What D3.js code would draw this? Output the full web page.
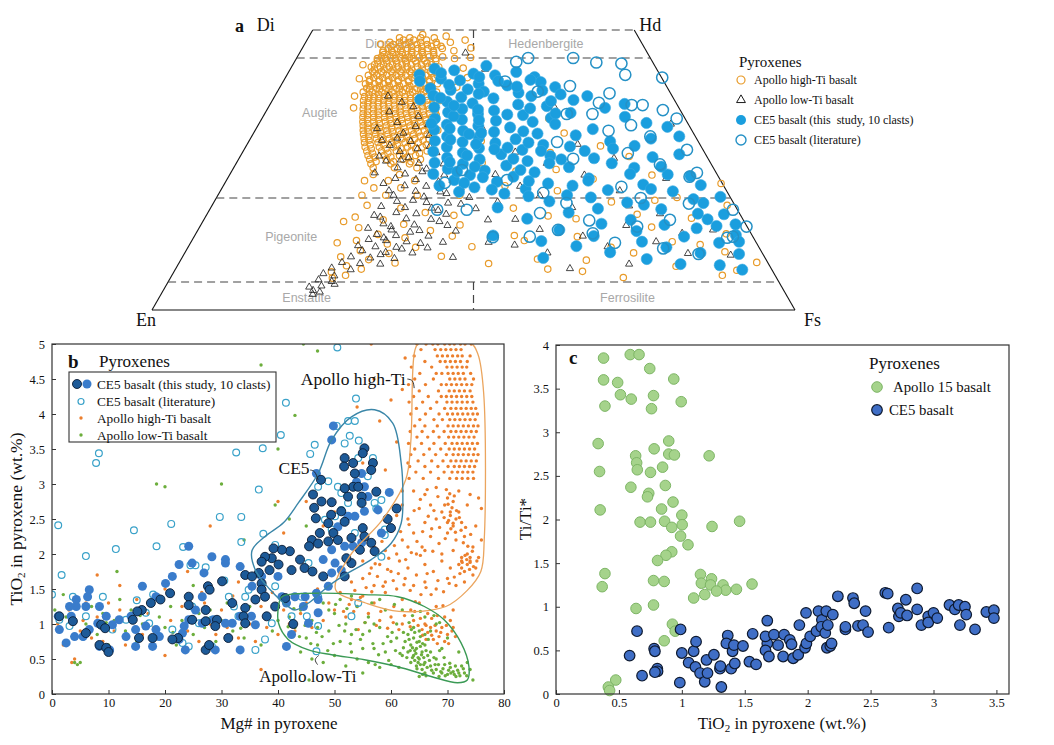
<!DOCTYPE html>
<html>
<head>
<meta charset="utf-8">
<script src="https://cdn.jsdelivr.net/npm/d3@7"></script>
<style>
  body { margin: 0; background: #fff; }
  svg text { font-family: "Liberation Serif", "Times New Roman", serif; fill: #111; }
  .gray { font-family: "Liberation Sans", Arial, sans-serif !important; fill: #a8a8a8 !important; }
</style>
</head>
<body>
<svg id="chart" width="1054" height="745"></svg>
<script>
// ---------- panel a : pyroxene quadrilateral, values [Wo, Fs] mol% ----------
var hiTiA = [[48.6,14.2],[48.6,15.8],[48.6,17.5],[48.6,19.6],[47.8,13.1],[47.8,14.6],[47.8,16.2],[47.8,17.9],[47.8,20.3],[47.8,22.5],
  [47.1,13.6],[47.1,15.0],[47.1,16.8],[47.1,18.4],[47.1,19.9],[47.1,21.4],[46.3,12.8],[46.3,14.1],[46.3,15.5],[46.3,17.2],[46.3,18.8],[46.3,20.6],[46.3,23.8],
  [45.6,13.3],[45.6,14.7],[45.6,16.1],[45.6,17.6],[45.6,19.3],[45.6,21.0],[44.9,12.6],[44.9,13.9],[44.9,15.4],[44.9,16.9],[44.9,18.2],[44.9,19.8],[44.9,21.7],[44.9,24.6],
  [44.1,13.1],[44.1,14.5],[44.1,16.0],[44.1,17.5],[44.1,19.1],[44.1,20.7],[43.4,12.4],[43.4,13.8],[43.4,15.2],[43.4,16.6],[43.4,18.0],[43.4,19.6],[43.4,21.3],[43.4,22.9],
  [42.6,13.0],[42.6,14.4],[42.6,15.9],[42.6,17.3],[42.6,18.8],[42.6,20.4],[42.6,22.0],[41.9,12.7],[41.9,14.0],[41.9,15.5],[41.9,17.0],[41.9,18.5],[41.9,20.0],[41.9,21.6],[41.9,23.4],
  [41.1,13.3],[41.1,14.8],[41.1,16.3],[41.1,17.8],[41.1,19.4],[41.1,21.0],[41.1,22.6],[40.4,13.0],[40.4,14.4],[40.4,15.8],[40.4,17.3],[40.4,18.9],[40.4,20.5],[40.4,22.1],[40.4,24.2],
  [39.6,13.6],[39.6,15.1],[39.6,16.6],[39.6,18.2],[39.6,19.8],[39.6,21.4],[39.6,23.0],[38.9,13.4],[38.9,14.8],[38.9,16.3],[38.9,17.9],[38.9,19.5],[38.9,21.1],[38.9,22.8],[38.9,24.8],
  [38.1,14.0],[38.1,15.5],[38.1,17.1],[38.1,18.7],[38.1,20.3],[38.1,22.0],[38.1,23.6],[37.4,14.2],[37.4,15.7],[37.4,17.3],[37.4,18.9],[37.4,20.6],[37.4,22.3],[37.4,24.0],[37.4,26.1],
  [36.6,14.6],[36.6,16.1],[36.6,17.7],[36.6,19.4],[36.6,21.1],[36.6,22.8],[36.6,24.5],[35.9,14.9],[35.9,16.5],[35.9,18.2],[35.9,19.9],[35.9,21.6],[35.9,23.3],[35.9,25.2],
  [35.1,15.3],[35.1,16.9],[35.1,18.6],[35.1,20.3],[35.1,22.0],[35.1,23.8],[35.1,25.6],[34.4,15.6],[34.4,17.3],[34.4,19.0],[34.4,20.8],[34.4,22.6],[34.4,24.4],[34.4,26.3],
  [33.6,16.0],[33.6,17.7],[33.6,19.5],[33.6,21.3],[33.6,23.1],[33.6,25.0],[33.6,27.0],[32.9,16.4],[32.9,18.2],[32.9,20.0],[32.9,21.8],[32.9,23.7],[32.9,25.6],
  [32.1,16.8],[32.1,18.6],[32.1,20.5],[32.1,22.4],[32.1,24.3],[32.1,26.3],[32.1,28.4],[31.4,17.2],[31.4,19.1],[31.4,21.0],[31.4,23.0],[31.4,25.0],[31.4,27.1],
  [30.6,17.7],[30.6,19.6],[30.6,21.6],[30.6,23.6],[30.6,25.6],[30.6,27.8],[29.9,18.1],[29.9,20.2],[29.9,22.3],[29.9,24.4],[29.9,26.5],
  [29.1,18.6],[29.1,20.8],[29.1,23.0],[29.1,25.2],[29.1,27.5],[28.4,19.2],[28.4,21.5],[28.4,23.8],[28.4,26.1],[28.4,28.6],
  [27.6,19.8],[27.6,22.3],[27.6,24.7],[27.6,27.2],[26.9,20.4],[26.9,23.0],[26.9,25.6],[26.9,28.3],[26.1,21.0],[26.1,24.1],[26.1,27.0],
  [25.4,21.7],[25.4,25.0],[25.4,28.5],[24.2,22.3],[24.2,26.4],[23.1,21.5],[23.1,25.2],[23.1,29.3],[21.8,23.6],[21.8,27.8],[20.5,22.4],[20.5,26.1],[20.5,31.0],
  [18.7,24.1],[18.2,29.6],[17.4,33.8],[16.6,23.3],[16.1,27.9],[15.3,31.5],[14.7,24.8],[14.2,36.2],[13.5,28.4],[12.9,32.9],[12.4,25.6],[11.8,30.7],
  [11.2,35.4],[10.6,27.1],[10.1,31.8],[9.5,24.6],[9.0,29.2],[8.4,33.6],[7.9,26.3],[7.3,28.9],[6.8,24.5],[6.2,27.0],[5.7,25.2],[16.9,38.5],[13.2,40.1],
  [15.8,21.9],[12.0,22.8],[49.2,17.5],[48.9,21.3],[48.2,24.6],[46.8,26.2],[45.1,27.0],[43.2,26.8],[41.5,28.3],[39.8,27.5],[37.9,29.2],[35.5,29.8],
  [47.5,11.8],[43.8,10.9],[41.3,11.6],[38.2,12.4],[36.1,13.3],
  [8.3,48.2],[9.1,55.4],[8.9,63.1],[10.2,69.8],[7.8,77.6],[11.3,44.1],[12.4,51.7],[13.1,59.6],[12.2,74.8],[13.6,82.5],[15.2,40.3],[16.3,57.8],
  [17.1,66.9],[16.4,75.7],[18.2,47.1],[19.3,61.8],[20.1,71.6],[21.3,52.4],[22.2,43.8],[23.4,56.9],[24.1,65.7],[26.3,38.2],[28.1,47.9],[30.2,36.1],
  [32.1,41.8],[6.2,85.6],[7.1,87.4],[10.4,83.9],[13.3,49.7],[11.2,65.8],[7.3,57.9],[9.6,40.2],[14.8,70.3],[18.7,80.1],[25.1,50.3],[27.4,60.5],
  [22.6,77.2],[5.8,70.4],[6.9,63.5],[11.7,79.4],[20.5,37.6],[24.8,44.2],[29.3,55.1],[31.6,48.3],[34.2,44.6],[16.8,53.2],[19.6,68.4],[8.5,89.8]];
// the packed augite cluster of the high-Ti basalts, one row per Wo level: [Wo, [Fs ...]]
var hiTiRowsA = [[48.2,[15.0,16.6,18.6]],[47.4,[13.8,15.8,17.5,19.1,20.6]],[46.7,[13.4,14.8,16.4,18.0,19.6,21.8]],
  [46.0,[12.9,14.4,15.9,17.4,19.0,20.8]],[45.2,[13.1,14.5,16.0,17.4,19.0,20.5,22.6]],[44.5,[12.8,14.2,15.7,17.2,18.7,20.2,21.9]],
  [43.8,[12.7,14.1,15.5,17.0,18.4,20.0,21.6]],[43.0,[13.1,14.6,16.0,17.4,18.9,20.5,22.2]],[42.3,[13.4,14.8,16.3,17.7,19.2,20.8,22.4]],
  [41.5,[13.7,15.1,16.6,18.1,19.7,21.3,23.0]],[40.8,[13.4,14.9,16.4,17.9,19.5,21.1,22.8]],[40.0,[13.9,15.4,16.9,18.5,20.1,21.7,23.4]],
  [39.3,[14.2,15.7,17.2,18.8,20.4,22.1,23.8]],[38.5,[14.5,16.0,17.6,19.2,20.9,22.6,24.3]],[37.8,[14.8,16.4,18.0,19.6,21.3,23.0,24.8]],
  [37.0,[15.1,16.7,18.3,20.0,21.7,23.5,25.3]],[36.3,[15.4,17.0,18.7,20.4,22.1,23.9,25.8]],[35.5,[15.8,17.4,19.1,20.8,22.6,24.4,26.3]],
  [34.8,[16.1,17.8,19.5,21.3,23.1,24.9,26.8]],[34.0,[16.5,18.2,20.0,21.8,23.6,25.5]],[33.3,[16.9,18.7,20.5,22.3,24.2,26.1]],
  [32.5,[17.3,19.1,21.0,22.9,24.8,26.8]],[31.8,[17.7,19.6,21.5,23.5,25.5,27.6]],[31.0,[18.2,20.1,22.1,24.1,26.2]],
  [30.3,[18.6,20.7,22.8,24.9,27.0]],[29.5,[19.2,21.3,23.4,25.6,27.9]],[28.8,[19.7,22.0,24.3,26.6]],[28.0,[20.3,22.7,25.1,27.6]],
  [27.3,[21.0,23.5,26.0]],[26.5,[21.6,24.3,27.0]]];
var loTiA = [[38.2,17.6],[37.1,20.3],[36.3,22.5],[35.4,19.2],[34.6,24.1],[33.5,21.4],[33.1,26.4],[32.4,18.8],[31.6,23.3],[31.2,27.5],
  [30.3,20.6],[30.1,25.2],[29.4,22.3],[29.2,28.6],[28.3,24.4],[28.1,30.2],[27.5,21.6],[27.2,26.3],[26.6,23.1],[26.2,28.4],[26.1,32.3],
  [25.4,25.5],[25.2,30.1],[24.5,22.4],[24.3,27.2],[24.1,33.4],[23.5,26.1],[23.3,29.4],[23.1,35.2],[22.6,24.7],[22.2,28.2],[22.1,31.6],
  [21.8,37.1],[21.3,26.2],[21.2,30.4],[21.1,34.3],[20.5,27.3],[20.2,32.2],[20.1,39.3],[19.4,28.4],[19.2,33.1],[19.1,36.5],[18.5,26.4],
  [18.3,30.2],[18.2,34.4],[18.1,41.3],[17.4,29.3],[17.2,32.5],[17.1,37.2],[16.6,27.2],[16.3,31.4],[16.2,35.3],[16.1,44.2],[15.4,28.3],
  [15.2,33.2],[15.1,38.4],[14.6,26.3],[14.3,30.1],[14.2,34.5],[14.1,40.2],[13.5,28.2],[13.3,31.3],[13.2,36.4],[12.6,27.4],[12.4,30.2],
  [12.2,33.5],[12.1,39.2],[11.5,26.3],[11.3,29.1],[11.2,32.4],[11.1,37.3],[10.6,27.4],[10.3,31.2],[10.2,35.4],[9.5,26.2],[9.3,29.3],
  [9.2,33.1],[8.5,25.3],[8.3,28.2],[8.2,31.4],[7.5,24.2],[7.2,27.3],[6.5,23.4],[6.1,25.3],[5.4,23.2],[5.1,25.4],[4.3,24.2],[4.1,22.4],
  [3.5,23.3],[4.6,26.1],[3.2,24.5],[2.8,23.6],[17.8,35.6],[15.8,36.8],[13.9,33.2],[12.9,29.6],[11.9,35.8],[10.9,33.4],[9.9,30.6],
  [16.9,26.1],[19.6,30.8],[14.9,29.7],[18.9,38.6],[20.8,35.4],[22.9,33.1],[24.7,29.7],[26.8,25.3],[28.8,26.9],[30.7,22.8],[32.8,24.6],
  [24.2,41.3],[22.1,46.2],[20.4,50.1],[18.3,56.2],[16.2,48.4],[14.4,53.1],[13.2,60.4],[12.1,46.3],[11.3,65.2],[10.2,56.4],[9.4,42.1],
  [12.2,72.3],[14.3,80.1],[17.2,70.4],[21.3,62.1],[24.1,55.2],[28.2,42.4],[30.3,38.1],[27.1,58.3],[32.4,35.2],[33.2,64.1],[10.1,78.3],
  [8.2,70.1],[15.1,66.2],[19.3,44.1],[26.2,48.3],[45.9,25.8],[43,30.3],[9.8,85.1],[13.7,75.6],[18.6,64.9],[23.5,68.2],[29.6,51.4],
  [36.2,44.5],[7.4,61.3],[11.6,50.6]];
var ce5A = [[43.1,22.4],[42.8,25.6],[42.2,28.9],[41.9,32.4],[43.6,30.2],[41.3,24.3],[41.0,27.4],[40.4,30.6],[40.1,35.2],[39.6,23.5],
  [39.3,26.8],[39.0,32.1],[38.8,37.6],[38.3,24.6],[38.0,29.1],[37.8,34.2],[37.2,27.3],[36.9,31.4],[36.7,38.6],[36.2,25.8],[35.9,30.3],
  [35.6,35.4],[35.3,28.4],[35.0,33.2],[34.8,40.3],[34.2,26.9],[34.0,31.2],[33.8,36.6],[33.6,42.4],[33.1,29.3],[32.9,34.3],[32.6,39.4],
  [32.2,27.8],[32.0,32.4],[31.8,37.3],[31.5,44.2],[31.0,30.4],[30.8,35.4],[30.5,41.3],[30.2,28.9],[30.0,33.3],[29.8,38.5],[29.5,46.1],
  [29.1,31.3],[28.9,36.4],[28.6,43.3],[28.3,29.6],[28.1,34.3],[27.8,40.4],[27.5,48.2],[27.2,32.3],[26.9,37.5],[26.6,45.1],[26.3,30.8],
  [26.1,35.3],[25.8,42.2],[25.5,52.1],[25.2,33.4],[24.9,39.3],[24.6,47.2],[24.3,31.6],[24.1,37.4],[23.8,44.3],[23.5,56.2],[23.2,35.4],
  [22.9,42.2],[22.6,50.3],[22.2,33.6],[21.9,39.2],[21.6,47.3],[21.4,60.2],[21.1,37.2],[20.8,44.4],[20.5,54.3],
  [42.5,35.4],[41.6,38.7],[40.7,40.1],[39.8,42.8],[38.5,44.3],[37.5,46.8],[36.4,43.2],[35.2,47.5],[42.0,20.6],[40.9,21.2],[37.6,22.9],
  [34.6,29.6],[31.4,33.6],[29.0,40.8],[27.0,42.7],[25.0,44.8],[23.0,47.1],[36.1,52.4],[34.5,56.3],[33.4,60.2],[38.2,48.6],[36.8,55.1],
  [32.7,63.8],[31.0,66.5],
  [42.3,23.8],[41.6,30.1],[40.2,26.1],[39.4,29.4],[38.6,31.5],[37.9,25.9],[36.5,28.7],[35.8,32.8],[34.9,37.8],[33.9,33.9],[33.3,26.8],
  [32.4,30.1],[31.6,35.4],[30.4,31.2],[29.6,35.6],[28.7,38.9],[27.6,35.2],[26.4,33.1],[25.6,37.4],[24.7,35.1],[23.7,39.6],[22.7,37.2],
  [21.5,42.1],[40.9,33.4],[39.9,36.8],[38.2,39.9],[36.0,40.8],[34.3,44.9],[31.9,41.8],[29.9,43.6],[28.4,46.3],[26.2,48.7],
  [31.2,50.3],[30.1,56.2],[29.3,60.4],[28.4,53.1],[27.3,64.2],[26.2,58.4],[25.4,62.3],[24.2,68.1],[23.1,56.3],[22.4,65.2],[21.2,70.4],
  [20.3,48.4],[20.1,58.2],[19.8,74.3],[19.4,52.1],[19.2,64.3],[18.3,44.6],[18.1,60.3],[18.0,70.2],[17.4,56.1],[17.2,76.3],[16.3,50.2],
  [16.1,66.4],[15.4,62.2],[15.2,72.1],[15.0,80.3],[14.3,56.2],[14.1,68.3],[13.3,46.4],[13.2,62.1],[13.1,76.2],[12.3,54.4],[12.2,70.1],
  [12.0,82.2],[11.4,60.3],[11.2,74.4],[10.3,66.1],[10.2,80.2],[10.0,86.3],[9.3,56.2],[9.1,72.4],[8.2,78.1],[8.0,84.3],[7.2,88.2],
  [13.4,84.1],[16.2,78.3],[19.1,76.2],[33.2,46.1],[35.1,45.2],[37.3,43.4],[39.2,41.1],[41.1,38.3],[29.2,50.4],[27.1,55.2],[24.3,62.2],
  [22.2,54.3],[22.3,74.2],[20.2,78.3],[17.1,80.4],[15.3,83.1],[12.2,85.2],[25.6,66.4],[27.8,68.1],[30.6,62.3],[26.9,50.2],[28.8,57.3],
  [32.3,52.4],[18.8,67.1],[21.6,66.8],[23.9,71.8],[14.6,77.4]];
var ce5LitA = [[44.3,34.5],[45,36],[44,51],[42,52.6],[41.5,58.6],[40.8,34.5],[39,40.5],[38.7,51.8],[36.6,56.3],[36.6,58],[35.7,61.6],
  [34.2,64.5],[37,51],[35,51],[28.6,68.9],[24.5,72.5],[23.8,71.7],[17.9,81.4],[14.9,85],[13.1,83.8],[12.9,83],[14.3,56],[13.1,52.2],
  [13.7,61.7],[17.3,51.7],[19.1,54.9],[14.9,68],[16.1,72.5],[23.2,43.6],[20.9,50.4],[17.9,35.4],[17.9,40],[22.7,34.2],[25,35.7],
  [13,46.5],[45,43],[44.2,47],[40,45],[33,58],[31,62],[28,60],[26,66],[22,62],[20,66],[11,74],[10,80],[30,48],[27,52],[32,55],[35,47],
  [19,74],[16,60],[12,66]];

// ---------- panel b : [Mg#, TiO2 wt.%] ----------
var hiTiRowsB = [[5.0,[64.6,66.2,67.4,68.3,69.5,70.4,71.2,72.3,73.1,74.2]],[4.92,[65.3,67.8,68.8,69.7,70.6,71.5,72.4]],
  [4.83,[64.1,68.2,69.1,70.0,70.9,71.8,72.6,74.0]],[4.75,[66.0,68.7,69.6,70.5,71.4,72.3,73.5]],[4.67,[63.6,67.2,69.9,70.8,71.7,72.6,73.4]],
  [4.58,[65.1,68.0,69.0,70.1,71.0,71.9,72.8,74.1]],[4.5,[64.2,67.5,70.4,71.3,72.2,73.1,74.6]],
  [4.42,[63.1,66.1,68.9,69.8,70.7,71.6,72.5,73.4,74.3]],[4.33,[65.0,68.4,70.3,71.2,72.1,73.0,74.0]],
  [4.25,[64.0,66.6,68.9,69.8,70.7,71.6,72.5,73.4,74.3]],[4.17,[63.2,65.6,68.1,69.9,70.8,71.7,72.6,73.5,74.5]],
  [4.08,[64.5,67.0,69.5,70.6,71.5,72.4,73.3,74.2,75.0]],[4.0,[63.5,66.1,68.5,70.0,70.9,71.8,72.7,73.6,74.5,75.3]],
  [3.92,[65.1,67.6,69.1,70.4,71.3,72.2,73.1,74.0,74.9]],[3.83,[64.2,66.0,68.2,70.1,71.0,71.9,72.8,73.7,74.6,75.4]],
  [3.75,[63.4,65.5,67.5,69.4,70.6,71.5,72.4,73.3,74.2,75.1]],[3.67,[64.6,66.5,68.5,70.2,71.1,72.0,72.9,73.8,74.7]],
  [3.58,[63.1,65.4,67.6,69.6,70.8,71.7,72.6,73.5,74.4,75.3]],[3.5,[64.2,66.8,68.8,70.3,71.2,72.1,73.0,73.9,74.8]],
  [3.42,[63.5,65.8,67.9,69.8,71.0,71.9,72.8,73.7,74.6,75.4]],[3.33,[64.8,67.2,69.2,70.6,71.5,72.4,73.3,74.2,75.1]],
  [3.25,[63.3,66.0,68.3,70.1,71.2,72.1,73.0,73.9,74.8]],[3.17,[64.4,67.0,69.4,70.8,71.8,72.7,73.6,74.5]],
  [3.08,[63.2,65.7,68.4,70.4,71.6,72.6,73.6,74.6]]];
var hiTiB = [[64,2.9],[66,2.85],[68,2.95],[70,2.8],[71,2.75],[72,2.9],[74,2.85],[75.5,2.8],[62,2.7],[65,2.65],[67,2.7],[69,2.6],
  [70.5,2.55],[72,2.6],[73.5,2.7],[76,2.65],[61,2.55],[63,2.5],[66,2.45],[68,2.5],[70,2.45],[71,2.4],[72.5,2.45],[75,2.4],
  [58,2.3],[60,2.35],[62,2.2],[64,2.3],[65.5,2.1],[67,2.25],[68.5,2.15],[70,2.3],[71.5,2.2],[73,2.25],[74.5,2.1],[76,2.2],
  [57,2.1],[59,2.05],[61,2.0],[63,2.1],[64.5,2.0],[66,2.05],[69,2.0],[71,2.05],[72.5,1.95],[73.5,2.0],[75.5,1.95],
  [55,1.9],[56.5,1.8],[58,1.85],[60,1.75],[61.5,1.9],[63,1.8],[64.5,1.7],[66,1.85],[67.5,1.75],[69,1.9],[70.5,1.8],[72,1.85],
  [73,1.75],[74,1.9],[75,1.8],[53,1.6],[55,1.65],[57,1.55],[59,1.6],[61,1.5],[62.5,1.65],[64,1.55],[66,1.6],[68,1.5],[70,1.65],
  [71.5,1.55],[73,1.6],[74.5,1.7],[72.5,1.9],[73.5,1.85],[74,1.95],[70.5,2.6],[71.5,2.5],[69.5,2.7],[72.5,1.8],
  [51,1.45],[53,1.35],[55,1.4],[57,1.3],[59,1.45],[60.5,1.25],[62,1.35],[63.5,1.2],[65,1.3],[66.5,1.15],[68,1.25],[69.5,1.1],
  [71,1.2],[56,1.15],[58,1.05],[60,1.1],[62,1.0],[64,1.05],[66,1.0],[67,0.95],[68,0.9],[69,0.95],[70,0.85],[66.5,0.88],
  [68.5,0.82],[67.5,0.78],[69.5,0.75],[65.5,0.92],[71,0.95],[70.5,1.05],[47,1.5],[49,1.3],[50,1.2],[52,1.1],[54,1.25],
  [48,1.05],[46,0.95],[44,1.15],[43,0.9],[45,1.3],[48,2.4],[50,2.6],[45,2.75],[41,2.3],[57,4.5],[60,4.2],[62,4.35],[58,3.9],
  [61,3.6],[55,3.3],[54,4.1],[59,3.2],[62,2.9],[63,3.3],[56.5,5.0],[62.5,4.8],
  [69.8,2.92],[70.4,2.86],[71.2,2.83],[70.1,2.71],[70.8,2.66],[71.6,2.62],[69.4,2.52],[70.2,2.48],[71.0,2.44],[72.1,2.52],[70.6,2.36],
  [71.4,2.31],[72.4,2.34],[73.2,2.38],[74.1,2.28],[72.8,2.16],[73.6,2.11],[74.4,2.04],[73.1,1.98],[74.0,1.88],[73.4,1.92],[72.6,1.88],
  [74.6,1.82],[75.2,1.9],[73.9,1.78],[72.2,1.72],[71.2,1.67],[70.3,1.58],[69.3,1.46],[68.3,1.62],[67.1,1.42],[66.2,1.52],[65.3,1.42],
  [64.3,1.32],[63.4,1.48],[62.3,1.56],[61.3,1.72],[60.4,1.62],[59.4,1.78],[58.6,1.54],[57.6,1.68],[56.6,1.46],[55.6,1.52],[54.6,1.38],
  [53.6,1.48],[52.6,1.28],[51.6,1.18],[62.6,1.92],[63.6,2.02],[64.6,2.18],[65.6,2.32],[66.6,2.54],[67.6,2.62],[68.6,2.38],[69.6,2.22],
  [67.4,2.04],[66.4,1.72],[65.2,1.98],[63.2,2.42],[64.1,2.62],[65.2,2.78],[66.4,2.92],[68.3,2.82],[67.2,2.36],[61.7,2.32],[60.6,2.12],
  [59.6,1.94],[58.4,2.18],[57.2,1.86],[56.2,1.72],[69.2,1.26],[68.2,1.12],[67.2,1.08],[66.2,0.98],[65.2,1.08],[64.2,1.18],[67.8,0.98],
  [68.8,0.88],[69.8,0.98],[70.8,0.9],[71.4,0.82],[70.2,0.72],[68.2,0.72],[67.2,0.84],[66.2,0.78],[65.6,0.84],[64.8,0.98],[63.4,0.96],
  [62.4,1.12],[61.4,0.92],[60.4,1.02],[59.4,0.94],[58.2,1.18],[57.4,0.98],[55.4,1.02],[54.2,0.92],[53.4,1.18],
  [1,1.0],[2,0.7],[3,1.2],[4,0.5],[3.5,0.45],[5,0.9],[6,1.3],[7,0.8],[8,1.1],[9,0.75],[10,1.3],[11,0.9],[12,1.2],[13,0.7],
  [14,1.05],[15,1.35],[16,0.85],[17,1.15],[18,0.95],[19,1.4],[20,0.55],[21,1.05],[22,0.8],[23,1.25],[24,0.9],[25,1.1],
  [26,0.75],[27,1.3],[28,1.0],[29,0.85],[30,1.2],[31,0.95],[32,1.4],[33,0.8],[34,1.15],[35,1.0],[36,0.75],[37,1.25],
  [38,0.95],[39,1.45],[40,0.85],[41,1.2],[42,1.0],[37,0.35],[28,2.4],[24,1.75],[8,1.7],[12,1.55],[33,1.6],[20,1.5],
  [5.5,1.05],[26.5,1.45],[15,0.7],[40,2.75]];
var loTiB = [[63,0.85],[64,0.8],[65,0.75],[63.5,0.7],[64.5,0.65],[65.5,0.6],[66,0.7],[63,0.6],[64,0.55],[65,0.5],[66,0.45],
  [64.5,0.4],[65.5,0.35],[63.5,0.45],[66.5,0.55],[62.5,0.75],[64,0.95],[65,0.9],[66,0.85],[67,0.6],[67,0.4],[68,0.35],
  [69,0.3],[70,0.28],[71,0.32],[72,0.3],[70.5,0.38],[69.5,0.42],[68.5,0.25],[71.5,0.25],[73,0.3],[74,0.35],[72.5,0.4],
  [68,0.5],[67.5,0.3],[66,0.3],[65,0.25],[74.5,0.2],[73.5,0.45],[64.2,0.62],[65.2,0.68],[63.8,0.52],[64.8,0.45],[65.8,0.52],
  [63.2,0.78],[63.6,0.92],[64.2,0.88],[64.6,0.74],[65.2,0.82],[65.6,0.72],[66.2,0.62],[66.6,0.78],[63.4,0.62],[63.8,0.66],[64.4,0.58],
  [64.8,0.52],[65.4,0.56],[65.8,0.42],[66.4,0.38],[66.8,0.48],[64.2,0.48],[64.6,0.36],[65.2,0.42],[65.6,0.28],[66.2,0.26],[67.2,0.34],
  [67.6,0.52],[67.8,0.42],[68.4,0.42],[68.8,0.32],[69.2,0.36],[69.6,0.26],[70.2,0.34],[70.6,0.3],[71.2,0.28],[71.8,0.34],[72.2,0.26],
  [72.8,0.36],[73.4,0.26],[70.4,0.44],[71.4,0.4],[69.4,0.52],[68.6,0.62],[63.2,1.02],[62.2,0.88],[62.8,0.52],[62.2,0.66],[61.6,0.58],
  [60.8,0.62],[60.2,0.88],[59.4,0.82],[58.6,0.72],[57.8,0.56],[56.8,0.72],[56.2,0.9],[55.4,1.02],[54.6,0.78],[53.8,0.92],[52.8,0.72],
  [51.8,0.9],[50.8,0.98],[49.8,0.72],[48.8,0.62],[47.8,0.82],[46.8,0.88],[45.8,0.72],[44.8,0.98],[43.8,0.82],[42.8,1.22],[41.8,0.96],
  [50.2,1.28],[52.2,1.22],[56.6,1.3],[60.6,1.28],[63.8,1.12],[65.2,1.18],[67.6,1.12],[68.6,1.02],[57.2,0.42],[59.6,0.48],[61.4,0.38],
  [41,1.3],[42,1.1],[43,0.95],[44,1.2],[45,0.8],[46,1.05],[47,0.7],[48,1.3],[49,0.9],[50,1.15],[51,0.75],[52,1.0],[53,0.6],
  [54,1.25],[55,0.85],[56,1.1],[57,0.65],[58,0.95],[59,1.2],[60,0.75],[61,1.0],[62,0.55],[44,0.6],[46,0.5],[48,0.45],
  [50,0.55],[52,0.4],[54,0.5],[56,0.45],[58,0.38],[60,0.42],[47,0.95],[49,1.2],[51,1.35],[53,0.85],[55,0.65],[57,1.0],
  [59,0.6],[61,0.8],[43,1.35],[45,1.4],[53,1.4],[55,0.3],[45.5,0.2],[58,1.35],[62,1.2],[66,1.1],[68,1.0],[70,0.8],[72,0.6],
  [69,0.65],[67,0.9],
  [0.5,1.2],[1.5,0.9],[2.5,1.1],[4,0.45],[4.5,0.42],[5,0.45],[6,1.0],[7,1.25],[8,0.85],[9,1.15],[10,0.7],[11,1.05],[12,1.35],
  [13,0.9],[14,1.2],[15,0.75],[16,1.0],[17,1.3],[18,0.8],[19,1.1],[20,0.95],[21,1.25],[22,0.7],[23,1.05],[24,1.35],[25,0.85],
  [26,1.15],[27,0.95],[28,1.2],[29,0.75],[30,1.05],[31,1.3],[32,0.9],[33,1.1],[34,0.8],[35,1.25],[36,1.0],[37,0.7],[38,1.15],
  [39,0.9],[40,1.05],[11.5,1.75],[2,1.42],[25,1.55],[3.6,0.82],[9.6,1.02],[15.6,1.12],[21.4,0.88],[27.6,1.08],[33.4,0.94],
  [44.5,5.0],[47,4.9],[37,4.7],[43,3.98],[18.5,3.0],[20,2.96],[30,3.0],[40,3.5],[39.5,2.7],[42,2.5],[34,2.2],[45,2.4]];
var ce5LitB = [[50.5,4.95],[53.8,4.22],[41.4,4.16],[40.5,3.7],[50.4,3.83],[46.5,3.56],[45.7,3.43],[37.3,3.51],[32.6,3.45],
  [8.3,3.44],[7.8,3.3],[52.4,3.9],[53.6,3.9],[52.7,3.69],[54.3,3.62],[51.8,3.58],[36.6,2.92],[29.7,2.53],[33.5,2.53],[21.1,2.43],
  [14.5,2.34],[1.1,2.41],[23.2,2.1],[18.5,2.11],[11.3,2.07],[6,1.97],[1.7,1.7],[0,1.42],[33.5,2.17],[37.4,2.29],[39.5,2.13],
  [27.2,1.81],[24.5,1.84],[25.4,1.84],[17.9,1.42],[15,1.34],[30.5,1.62],[45.4,1.87],[48.3,2.49],[49.5,2.35],[47.1,2.96],
  [48.9,3.04],[50.6,2.96],[51.2,2.87],[52.4,2.73],[51.2,2.63],[54.2,3.37],[55.9,3.11],[56.8,3.37],[57.1,2.73],[57.4,2.65],
  [58.3,2.77],[58.9,2.35],[58.9,2.27],[53.6,2.3],[50.1,2.54],[58.3,1.96],[47.1,1.39],[44.2,1.39],[42.4,1.11],[47.1,0.97],
  [45.1,1.11],[54.2,1.3],[53,1.11],[46.8,0.61],[37.7,0.78],[38.9,1.01],[39.5,1.54],[37.7,1.39],[34.2,1.39],[31.3,1.39],
  [33,1.11],[26,1.01],[23.1,0.73],[18.7,0.82],[16.6,1.16],[13.1,1.06],[10.7,0.92],[6,1.11],[3.1,0.97],[3.7,1.39],[1.3,1.06],
  [5.5,0.82],[9,1.39],[17.2,1.01],[21.3,0.92],[24.8,1.25],[28.3,1.06],[32.2,1.25],[34.8,1.49],[36,0.63],[28.3,0.68],[24.2,0.68]];
var ce5DarkB = [[51.8,3.37],[51.7,3.25],[53.3,3.3],[53.6,3.15],[55.3,3.51],[55,3.44],[56.8,3.3],[56.5,3.2],[53.3,2.96],
  [54.2,2.96],[54.8,2.82],[52.4,2.82],[51.8,2.94],[57.4,2.89],[54.8,2.73],[47.6,3.06],[46.2,2.85],[47.7,2.75],[49.5,2.74],
  [46.4,2.66],[46.7,2.51],[49.4,2.56],[51.2,2.61],[59.4,2.5],[61,2.65],[60,2.37],[51.8,2.46],[48.9,2.44],[47.4,2.3],[46,2.2],
  [45.5,2.11],[47.1,2.15],[48.9,2.18],[49.8,2.3],[50.6,2.2],[53,2.23],[55,2.37],[55.3,2.25],[56.5,2.16],[57.1,2.04],[54.5,2.06],
  [42.1,2.04],[40.7,2.06],[39.2,2.08],[38.9,1.94],[37.7,1.96],[37.1,1.89],[36.6,1.73],[38.5,1.77],[40.1,1.85],[42.4,1.77],
  [43.9,1.92],[44.7,1.8],[46.1,1.75],[48,1.68],[34.2,1.7],[35.4,1.68],[37.1,1.58],[37.1,1.49],[37.7,1.39],[36,1.35],
  [34.2,1.23],[33.9,1.11],[34.2,1.01],[31.9,1.3],[29.2,1.06],[28.9,0.97],[27.2,1.04],[27.2,0.63],[27.8,0.7],[30.1,1.61],
  [27.6,1.54],[27.9,1.49],[24.2,1.39],[24.2,1.27],[20.9,1.44],[19.2,1.35],[17.5,1.3],[15.9,1.2],[15.1,1.18],[14.3,1.06],
  [15.4,0.8],[17.8,0.8],[22.3,0.8],[21.3,0.78],[31.2,0.8],[24.8,1.06],[27.2,1.2],[39.5,1.25],[38,1.11],[42.7,1.0],[41.3,1.37],
  [8.7,0.99],[9.4,0.94],[8.4,0.7],[9.6,0.66],[10,0.6],[6,0.87],[3.7,1.04],[1.3,1.11],[51.8,1.68],[53,1.87],[52.1,1.94]];
var ce5MidB = [[49.8,3.83],[49.5,3.63],[46.8,3.15],[53.9,3.03],[55.3,2.96],[55.9,2.82],[55.3,2.61],[53.6,2.54],[52.4,2.54],
  [50.6,2.39],[49.5,2.06],[48,1.92],[51.8,2.11],[50.1,1.87],[49.5,1.73],[46.8,1.44],[47.1,1.35],[44.8,1.39],[43,1.39],
  [41.5,1.3],[40.7,1.39],[40,1.68],[37.1,1.68],[35.4,1.54],[35.3,1.11],[36,0.99],[33.3,1.11],[31.9,1.01],[30.7,1.01],
  [28.6,1.06],[26.6,1.01],[26.6,1.39],[28.3,1.96],[24.8,1.87],[26.9,1.73],[25.4,1.2],[24.2,1.06],[23.4,0.97],[23.1,0.87],
  [22.5,0.78],[19,0.82],[18.4,0.92],[16.6,0.97],[14.8,0.92],[14,1.11],[13.1,0.82],[11.9,1.06],[10.7,0.99],[9.6,1.11],
  [8.4,1.25],[8.1,1.01],[6.6,0.92],[5.5,0.82],[4,0.82],[2.5,0.73],[1.3,0.92],[1.1,1.11],[3.4,1.11],[4.3,1.25],[6.6,1.49],
  [6.3,1.39],[6,1.25],[3.1,1.25],[4.3,1.35],[8.4,0.68],[10.2,0.63],[14.8,0.68],[17.8,0.68],[23.6,0.63],[28.9,0.63],[33.3,0.63],
  [41.5,0.68],[42.4,0.85],[45.4,1.01],[47.1,1.16],[44.5,1.25],[48.9,1.54],[51.2,1.77],[53.3,2.11],[54.8,2.16],[57.7,2.63],
  [58.3,2.3],[59.7,2.88],[54.8,3.15],[18.4,1.39],[16,1.54],[20.1,1.58],[21.3,1.68],[22.5,1.85],[30.7,1.87],[30.7,1.92],
  [24.2,2.11],[33.3,1.82]];
var ce5EnvB = [[41.8,1.25],[38.5,1.5],[36,1.77],[35.4,2.05],[37.7,2.25],[41,2.45],[43.6,2.73],[47.1,3.15],[49.5,3.63],[53,3.96],
  [57.1,4.06],[60.3,3.87],[61.8,3.3],[62.1,2.82],[61.8,2.44],[60,2.15],[56.5,1.92],[52.4,1.73],[48.9,1.54],[45.4,1.3],[43,1.2]];
var hiTiEnvB = [[64.2,4.9],[65,5.02],[74,5.02],[75.4,4.85],[76.4,4.3],[76.5,2.2],[75.9,1.75],[73.5,1.48],[69.7,1.25],
  [61.4,1.18],[55.5,1.3],[50.2,1.49],[52.6,1.96],[58.5,2.49],[62.6,3.06],[63.5,3.6]];
var loTiEnvB = [[40.7,1.39],[46.5,1.44],[55.3,1.42],[61.2,1.39],[65.9,1.25],[69.4,1.06],[72.4,0.73],[73.8,0.39],[73.5,0.2],
  [71.8,0.16],[67.1,0.25],[61.2,0.39],[55.3,0.49],[49.5,0.56],[45.4,0.63],[41.8,0.78],[40.1,1.01],[40.1,1.25]];

// ---------- panel c : [TiO2 wt.%, Ti/Ti*] ----------
var apollo15C = [[0.378,3.85],[0.59,3.89],[0.66,3.89],[0.745,3.73],[0.378,3.6],[0.49,3.57],[0.936,3.61],[0.512,3.43],
  [0.598,3.38],[0.775,3.42],[0.995,3.35],[0.389,3.3],[0.759,3.27],[0.335,2.87],[0.896,2.9],[0.78,2.81],[0.633,2.73],
  [0.896,2.75],[0.941,2.74],[1.217,2.73],[0.641,2.65],[0.646,2.57],[0.346,2.55],[0.751,2.54],[0.847,2.6],[0.595,2.37],
  [0.869,2.39],[0.737,2.3],[0.727,2.26],[0.93,2.2],[0.351,2.11],[0.839,2.12],[1.0,2.05],[0.668,1.97],[0.751,1.97],[0.863,1.98],
  [0.92,1.91],[1.003,1.94],[1.24,1.92],[1.459,1.98],[0.99,1.81],[1.049,1.71],[0.92,1.63],[0.874,1.59],[0.807,1.53],[0.389,1.38],
  [0.367,1.23],[0.775,1.3],[0.86,1.29],[1.148,1.37],[1.155,1.27],[1.236,1.32],[1.228,1.25],[1.327,1.25],[1.349,1.19],
  [1.276,1.18],[1.434,1.2],[1.558,1.26],[1.182,1.14],[1.094,1.1],[0.636,0.98],[0.775,1.02],[0.925,0.8],[0.947,0.72],
  [0.86,0.61],[0.475,0.16],[0.416,0.08],[0.426,0.04]];
var ce5C = [[0.585,0.44],[0.644,0.72],[0.684,0.21],[0.78,0.52],[0.786,0.49],[0.805,0.29],[0.807,0.26],[0.786,0.25],[0.99,0.74],
  [1.0,0.47],[0.984,0.13],[1.054,0.36],[1.094,0.49],[1.113,0.6],[1.108,0.31],[1.145,0.24],[1.182,0.14],[1.196,0.39],[1.204,0.24],
  [1.255,0.45],[1.303,0.29],[1.314,0.08],[1.306,0.32],[1.365,0.67],[1.354,0.58],[1.403,0.49],[1.414,0.56],[1.392,0.29],
  [1.421,0.35],[1.486,0.55],[1.537,0.37],[1.59,0.34],[1.563,0.69],[1.679,0.84],[1.679,0.58],[1.665,0.5],[1.692,0.43],
  [1.665,0.66],[1.732,0.68],[1.765,0.56],[1.805,0.43],[1.813,0.68],[1.858,0.62],[1.872,0.57],[1.885,0.41],[1.925,0.45],
  [1.934,0.79],[1.979,0.53],[1.99,0.58],[1.987,0.93],[2.02,0.66],[2.07,0.72],[2.086,0.95],[2.113,0.85],[2.108,0.77],[2.14,0.7],
  [2.148,0.95],[2.153,0.53],[2.18,0.55],[2.16,0.79],[2.2,0.91],[2.19,0.58],[2.24,1.12],[2.3,0.74],[2.3,0.77],[2.36,1.1],
  [2.37,1.04],[2.4,0.78],[2.46,0.95],[2.44,0.79],[2.48,0.71],[2.617,1.16],[2.636,1.15],[2.644,0.76],[2.725,0.89],[2.717,0.98],
  [2.74,0.93],[2.78,1.08],[2.79,0.9],[2.87,0.97],[2.87,1.21],[2.904,0.79],[2.958,0.89],[2.958,0.82],[3.0,0.93],[3.03,0.87],
  [3.127,1.02],[3.17,0.97],[3.2,1.02],[3.25,1.0],[3.26,0.91],[3.21,0.79],[3.33,0.74],[3.42,0.94],[3.48,0.96],[3.48,0.87]];

var svg = d3.select("#chart");

// ================= panel a =================
function drawTernary() {
  var g = svg.append("g");
  // projection: horizontal position = Fs + Wo/2, vertical = Wo
  var tx = d3.scaleLinear().domain([0, 100]).range([152, 795]);
  var ty = d3.scaleLinear().domain([0, 50]).range([310, 30]);
  var px = function (d) { return tx(d[1] + d[0] / 2); };
  var py = function (d) { return ty(d[0]); };
  var seg = function (a, b, dash) {
    g.append("line").attr("x1", px(a)).attr("y1", py(a)).attr("x2", px(b)).attr("y2", py(b))
      .attr("stroke", dash ? "#444" : "#111").attr("stroke-width", dash ? 1.2 : 1.1)
      .attr("stroke-dasharray", dash ? "8,5" : null);
  };

  // region names
  var names = [["Diopside", 47.3, 13.3], ["Hedenbergite", 47.3, 37.6], ["Augite", 35, 8.6],
    ["Pigeonite", 12.9, 15.2], ["Enstatite", 2.1, 23], ["Ferrosilite", 2.1, 72.9]];
  names.forEach(function (n) {
    g.append("text").attr("class", "gray").attr("x", px([n[1], n[2]])).attr("y", py([n[1], n[2]]))
      .attr("text-anchor", "middle").attr("dominant-baseline", "middle").style("font-size", "12.5px").text(n[0]);
  });

  seg([0, 0], [50, 0], false);
  seg([0, 100], [50, 50], false);
  seg([0, 0], [0, 100], false);
  seg([50, 0], [50, 50], true);
  [45, 20, 5].forEach(function (w) { seg([w, 0], [w, 100 - w], true); });
  seg([50, 25], [45, 27.5], true);
  seg([5, 47.5], [0, 50], true);

  var packed = [];
  hiTiRowsA.forEach(function (row) { row[1].forEach(function (f) { packed.push([row[0], f]); }); });
  g.append("g").selectAll("circle").data(hiTiA.concat(packed)).enter().append("circle")
    .attr("cx", px).attr("cy", py).attr("r", 3.2).attr("fill", "none")
    .attr("stroke", "#e89b2a").attr("stroke-width", 1.2);
  var tri = d3.symbol().type(d3.symbolTriangle).size(22);
  g.append("g").selectAll("path").data(loTiA).enter().append("path")
    .attr("d", tri).attr("transform", function (d) { return "translate(" + px(d) + "," + py(d) + ")"; })
    .attr("fill", "none").attr("stroke", "#1a1a1a").attr("stroke-width", 0.8);
  g.append("g").selectAll("circle").data(ce5A).enter().append("circle")
    .attr("cx", px).attr("cy", py).attr("r", 5.6).attr("fill", "#1a9ede")
    .attr("stroke", "#3aa9e0").attr("stroke-width", 0.6);
  g.append("g").selectAll("circle").data(ce5LitA).enter().append("circle")
    .attr("cx", px).attr("cy", py).attr("r", 5.6).attr("fill", "none")
    .attr("stroke", "#2591c6").attr("stroke-width", 1.5);

  // corner labels
  var corner = function (t, d, dx, dy) {
    g.append("text").attr("x", px(d) + dx).attr("y", py(d) + dy).style("font-size", "18px").text(t);
  };
  corner("Di", [50, 0], -56, 1);
  corner("Hd", [50, 50], 5, 1);
  corner("En", [0, 0], -16, 16);
  corner("Fs", [0, 100], 9, 16);
  g.append("text").attr("x", 235).attr("y", 32).style("font-size", "18px").style("font-weight", "bold").text("a");

  // legend
  var lg = g.append("g").attr("transform", "translate(741,0)");
  lg.append("text").attr("x", -2).attr("y", 67).style("font-size", "15px").text("Pyroxenes");
  var rows = [80, 100, 120, 140];
  lg.append("circle").attr("cx", 0).attr("cy", rows[0]).attr("r", 4).attr("fill", "none").attr("stroke", "#e89b2a").attr("stroke-width", 1.2);
  lg.append("path").attr("d", d3.symbol().type(d3.symbolTriangle).size(34))
    .attr("transform", "translate(0," + rows[1] + ")").attr("fill", "none").attr("stroke", "#1a1a1a");
  lg.append("circle").attr("cx", 0).attr("cy", rows[2]).attr("r", 5).attr("fill", "#1a9ede");
  lg.append("circle").attr("cx", 0).attr("cy", rows[3]).attr("r", 5).attr("fill", "none").attr("stroke", "#2591c6").attr("stroke-width", 1.4);
  ["Apollo high-Ti basalt", "Apollo low-Ti basalt", "CE5 basalt (this  study, 10 clasts)", "CE5 basalt (literature)"]
    .forEach(function (t, i) {
      lg.append("text").attr("x", 13).attr("y", rows[i] + 4).style("font-size", "12px")
        .style("white-space", "pre").text(t);
    });
}

// ================= frame + axes helper =================
function frame(g, x, y, xTicks, yTicks) {
  var xr = x.range(), yr = y.range();
  var style = function (a) {
    a.select(".domain").remove();
    a.selectAll("line").attr("stroke", "#333");
    a.selectAll("text").style("font-size", "12.5px").attr("fill", "#222");
  };
  g.append("g").attr("transform", "translate(0," + yr[0] + ")")
    .call(d3.axisBottom(x).tickValues(xTicks).tickSizeInner(-4).tickSizeOuter(0).tickPadding(4).tickFormat(d3.format("")))
    .call(style);
  g.append("g").attr("transform", "translate(" + xr[0] + ",0)")
    .call(d3.axisLeft(y).tickValues(yTicks).tickSizeInner(-4).tickSizeOuter(0).tickPadding(7).tickFormat(d3.format("")))
    .call(style);
  g.append("rect").attr("x", xr[0]).attr("y", yr[1]).attr("width", xr[1] - xr[0]).attr("height", yr[0] - yr[1])
    .attr("fill", "none").attr("stroke", "#333").attr("stroke-width", 1.2);
}

// ================= panel b =================
function drawB() {
  var g = svg.append("g");
  var x = d3.scaleLinear().domain([0, 80]).range([52, 504]);
  var y = d3.scaleLinear().domain([0, 5]).range([694, 344]);
  g.append("clipPath").attr("id", "clipB").append("rect").attr("x", 52).attr("y", 344).attr("width", 452).attr("height", 350);
  var p = g.append("g").attr("clip-path", "url(#clipB)");
  var dots = function (data, r, attrs) {
    var s = p.append("g").selectAll("circle").data(data).enter().append("circle")
      .attr("cx", function (d) { return x(d[0]); }).attr("cy", function (d) { return y(d[1]); }).attr("r", r);
    Object.keys(attrs).forEach(function (k) { s.attr(k, attrs[k]); });
  };
  var streak = [];
  hiTiRowsB.forEach(function (row) { row[1].forEach(function (m) { streak.push([m, row[0]]); }); });
  dots(streak.concat(hiTiB), 1.7, { fill: "#ec7f2d" });
  dots(loTiB, 1.7, { fill: "#6cae3c" });
  dots(ce5LitB, 3.4, { fill: "none", stroke: "#3aa2c9", "stroke-width": 1.2 });
  dots(ce5MidB, 4.5, { fill: "#3a7ccb" });
  dots(ce5DarkB, 4.5, { fill: "#1d5a98", stroke: "#0b1c33", "stroke-width": 0.9 });

  var env = d3.line().x(function (d) { return x(d[0]); }).y(function (d) { return y(d[1]); }).curve(d3.curveCatmullRomClosed.alpha(0.5));
  p.append("path").attr("d", env(hiTiEnvB)).attr("fill", "none").attr("stroke", "#eba55e").attr("stroke-width", 1.3);
  p.append("path").attr("d", env(loTiEnvB)).attr("fill", "none").attr("stroke", "#3b9a55").attr("stroke-width", 1.4);
  p.append("path").attr("d", env(ce5EnvB)).attr("fill", "none").attr("stroke", "#3a86a8").attr("stroke-width", 1.4);

  var lead = d3.line().x(function (d) { return x(d[0]); }).y(function (d) { return y(d[1]); }).curve(d3.curveNatural);
  [[[62.9, 4.5], [63.8, 4.47], [64.1, 4.37]], [[45.7, 3.2], [46.5, 3.17], [47.1, 3.06]], [[47, 0.42], [46.6, 0.49], [47.2, 0.55]]]
    .forEach(function (l) { g.append("path").attr("d", lead(l)).attr("fill", "none").attr("stroke", "#222").attr("stroke-width", 0.9); });
  g.append("text").attr("x", x(62.6)).attr("y", y(4.42)).attr("text-anchor", "end").style("font-size", "17.5px").text("Apollo high-Ti");
  g.append("text").attr("x", x(45.6)).attr("y", y(3.15)).attr("text-anchor", "end").style("font-size", "17.5px").text("CE5");
  g.append("text").attr("x", x(36.7)).attr("y", y(0.17)).style("font-size", "17px").text("Apollo low-Ti");

  frame(g, x, y, d3.range(0, 81, 10), d3.range(0, 5.01, 0.5));

  g.append("text").attr("x", 279).attr("y", 729).attr("text-anchor", "middle").style("font-size", "17px").text("Mg# in pyroxene");
  var yl = g.append("text").attr("transform", "translate(22,519) rotate(-90)").attr("text-anchor", "middle").style("font-size", "17.5px");
  yl.append("tspan").text("TiO");
  yl.append("tspan").attr("dy", 3).style("font-size", "11px").text("2");
  yl.append("tspan").attr("dy", -3).text(" in pyroxene (wt.%)");

  g.append("text").attr("x", 68).attr("y", 368).style("font-size", "19px").style("font-weight", "bold").text("b");
  g.append("text").attr("x", 99).attr("y", 367).style("font-size", "17px").text("Pyroxenes");
  var lg = g.append("g");
  lg.append("rect").attr("x", 69).attr("y", 372).attr("width", 207).attr("height", 70).attr("fill", "#fff").attr("stroke", "#333").attr("stroke-width", 1.1);
  lg.append("circle").attr("cx", 77).attr("cy", 384).attr("r", 4.5).attr("fill", "#1d5a98").attr("stroke", "#0b1c33").attr("stroke-width", 0.9);
  lg.append("circle").attr("cx", 87).attr("cy", 384).attr("r", 4.5).attr("fill", "#3a7ccb");
  lg.append("circle").attr("cx", 81).attr("cy", 401.5).attr("r", 3).attr("fill", "none").attr("stroke", "#3aa2c9").attr("stroke-width", 1.2);
  lg.append("circle").attr("cx", 81).attr("cy", 418).attr("r", 1.7).attr("fill", "#ec7f2d");
  lg.append("circle").attr("cx", 81).attr("cy", 435).attr("r", 1.7).attr("fill", "#6cae3c");
  ["CE5 basalt (this study, 10 clasts)", "CE5 basalt (literature)", "Apollo high-Ti basalt", "Apollo low-Ti basalt"]
    .forEach(function (t, i) {
      lg.append("text").attr("x", 97).attr("y", [388.5, 406, 422.5, 439.5][i]).style("font-size", "13.3px").text(t);
    });
}

// ================= panel c =================
function drawC() {
  var g = svg.append("g");
  var x = d3.scaleLinear().domain([0, 3.6]).range([556, 1009]);
  var y = d3.scaleLinear().domain([0, 4]).range([694, 345]);
  g.append("g").selectAll("circle").data(apollo15C).enter().append("circle")
    .attr("cx", function (d) { return x(d[0]); }).attr("cy", function (d) { return y(d[1]); }).attr("r", 5.3)
    .attr("fill", "#a5d38b").attr("stroke", "#7db565").attr("stroke-width", 1);
  g.append("g").selectAll("circle").data(ce5C).enter().append("circle")
    .attr("cx", function (d) { return x(d[0]); }).attr("cy", function (d) { return y(d[1]); }).attr("r", 5.3)
    .attr("fill", "#3f6ec6").attr("stroke", "#0e1a30").attr("stroke-width", 1.2);

  frame(g, x, y, d3.range(0, 3.51, 0.5), d3.range(0, 4.01, 0.5));

  var xl = g.append("text").attr("x", 782).attr("y", 729).attr("text-anchor", "middle").style("font-size", "17px");
  xl.append("tspan").text("TiO");
  xl.append("tspan").attr("dy", 3).style("font-size", "11px").text("2");
  xl.append("tspan").attr("dy", -3).text(" in pyroxene (wt.%)");
  g.append("text").attr("transform", "translate(531,519) rotate(-90)").attr("text-anchor", "middle").style("font-size", "17px").text("Ti/Ti*");

  g.append("text").attr("x", 569).attr("y", 364).style("font-size", "19px").style("font-weight", "bold").text("c");
  g.append("text").attr("x", 869).attr("y", 369).style("font-size", "17px").text("Pyroxenes");
  g.append("circle").attr("cx", 877).attr("cy", 387).attr("r", 5.3).attr("fill", "#a5d38b").attr("stroke", "#7db565");
  g.append("circle").attr("cx", 877).attr("cy", 410).attr("r", 5.3).attr("fill", "#3f6ec6").attr("stroke", "#0e1a30").attr("stroke-width", 1.2);
  g.append("text").attr("x", 893).attr("y", 392).style("font-size", "14.8px").text("Apollo 15 basalt");
  g.append("text").attr("x", 889).attr("y", 415).style("font-size", "14.8px").text("CE5 basalt");
}

drawTernary();
drawB();
drawC();
</script>
</body>
</html>
